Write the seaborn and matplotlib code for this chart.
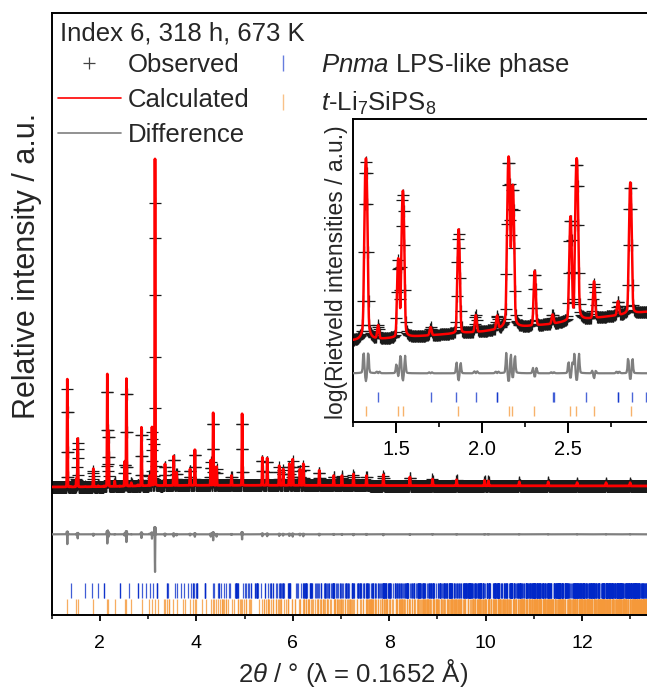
import numpy as np
import pandas as pd
import matplotlib
matplotlib.use("Agg")
import matplotlib.pyplot as plt
import seaborn as sns
from matplotlib.lines import Line2D
from matplotlib.ticker import MultipleLocator, NullLocator

# ---------------- data ----------------
wavelength = 0.1652          # Å
x_range = [1.0, 13.35]       # 2θ range of main panel
step = 0.004                 # measurement step (°)

# peak positions (2θ / °), calculated and observed heights (relative units)
peak_pos = [1.324, 1.395, 1.512, 1.539, 1.700, 1.863, 1.963, 2.087, 2.154, 2.178,
            2.306, 2.410, 2.514, 2.550, 2.651, 2.790, 2.862, 3.030, 3.081, 3.143,
            3.350, 3.530, 3.590, 3.870, 3.970, 4.300, 4.350, 4.420, 4.730, 4.950,
            5.370, 5.470, 5.720, 5.800, 5.930, 6.000, 6.150, 6.220, 6.550, 6.850,
            7.020, 7.260, 7.530, 7.880, 8.430, 8.900, 9.400, 9.980, 10.060, 10.700,
            11.300, 11.900, 12.500, 13.000]
peak_calc = [0.330, 0.0016, 0.025, 0.148, 0.0010, 0.055, 0.0025, 0.0020, 0.344, 0.170,
             0.016, 0.0015, 0.075, 0.329, 0.010, 0.0030, 0.179, 0.030, 0.179, 1.000,
             0.066, 0.090, 0.040, 0.050, 0.109, 0.077, 0.222, 0.057, 0.030, 0.219,
             0.085, 0.083, 0.060, 0.050, 0.066, 0.080, 0.050, 0.066, 0.046, 0.030,
             0.030, 0.035, 0.030, 0.033, 0.026, 0.020, 0.018, 0.016, 0.015, 0.012,
             0.012, 0.010, 0.010, 0.010]
peak_obs = [0.300, 0.0016, 0.024, 0.135, 0.0010, 0.050, 0.0025, 0.0020, 0.310, 0.160,
            0.015, 0.0015, 0.070, 0.300, 0.009, 0.0030, 0.165, 0.030, 0.165, 0.880,
            0.060, 0.082, 0.036, 0.046, 0.100, 0.070, 0.200, 0.050, 0.028, 0.200,
            0.078, 0.076, 0.055, 0.046, 0.060, 0.073, 0.046, 0.060, 0.042, 0.028,
            0.028, 0.032, 0.028, 0.030, 0.024, 0.019, 0.017, 0.015, 0.014, 0.011,
            0.011, 0.009, 0.009, 0.009]
fwhm_calc = 0.012
fwhm_obs = 0.013
lorentz_frac = 0.05

# background (relative units)
bg_pos = [1.0, 1.3, 2.0, 2.4, 2.95, 4.0, 6.0, 9.0, 13.4]
bg_val = [0.004, 0.004, 0.005, 0.006, 0.008, 0.009, 0.009, 0.008, 0.007]

# lattice parameters of the two phases (Å) for the reflection markers
pnma_cell = [13.57, 7.83, 6.105]     # a, b, c  (Pnma LPS-like phase)
tet_cell = [8.70, 12.54]             # a, c     (t-Li7SiPS8, P4_2/nmc)

title_text = "Index 6, 318 h, 673 K"
labels = ["Observed", "Calculated", "Difference",
          r"$\mathit{Pnma}$ LPS-like phase", r"$\mathit{t}$-Li$_7$SiPS$_8$"]
x_label = r"2$\mathit{θ}$ / ° (λ = 0.1652 Å)"
y_label = "Relative intensity / a.u."
inset_y_label = "log(Rietveld intensities / a.u.)"
main_ticks = [2, 4, 6, 8, 10, 12]

# ---------------- derived profiles ----------------
def profile(x, pos, h, w, eta=lorentz_frac):
    pos = np.asarray(pos)[None, :]
    h = np.asarray(h)[None, :]
    dx = x[:, None] - pos
    lor = 1.0 / (1.0 + (2 * dx / w) ** 2)
    gau = np.exp(-4 * np.log(2) * (dx / w) ** 2)
    return (h * (eta * lor + (1 - eta) * gau)).sum(axis=1)

x_obs = np.arange(x_range[0], x_range[1] + step, step)
x_fine = np.arange(x_range[0], x_range[1] + step / 4, step / 4)
y_obs = profile(x_obs, peak_pos, peak_obs, fwhm_obs) + np.interp(x_obs, bg_pos, bg_val)
y_calc_at_obs = profile(x_obs, peak_pos, peak_calc, fwhm_calc) + np.interp(x_obs, bg_pos, bg_val)
y_calc = profile(x_fine, peak_pos, peak_calc, fwhm_calc) + np.interp(x_fine, bg_pos, bg_val)
y_diff = y_obs - y_calc_at_obs

def refl_pnma(a, b, c, tmax):
    out = []
    dmin = wavelength / (2 * np.sin(np.radians(tmax / 2)))
    for h in range(0, int(a / dmin) + 1):
        for k in range(0, int(b / dmin) + 1):
            for l in range(0, int(c / dmin) + 1):
                if h == k == l == 0:
                    continue
                if h == 0 and (k + l) % 2:
                    continue
                if l == 0 and h % 2:
                    continue
                if h == 0 and l == 0 and k % 2:
                    continue
                if h == 0 and k == 0 and l % 2:
                    continue
                d = 1 / np.sqrt(h * h / a ** 2 + k * k / b ** 2 + l * l / c ** 2)
                if d < dmin:
                    continue
                out.append(2 * np.degrees(np.arcsin(wavelength / (2 * d))))
    return np.array(sorted(out))

def refl_tet(a, c, tmax):
    out = []
    dmin = wavelength / (2 * np.sin(np.radians(tmax / 2)))
    for h in range(0, int(a / dmin) + 1):
        for k in range(0, h + 1):
            for l in range(0, int(c / dmin) + 1):
                if h == k == l == 0:
                    continue
                if l == 0 and (h + k) % 2:
                    continue
                if h == k and l % 2:
                    continue
                if h == 0 and k == 0 and l % 2:
                    continue
                d = 1 / np.sqrt((h * h + k * k) / a ** 2 + l * l / c ** 2)
                if d < dmin:
                    continue
                out.append(2 * np.degrees(np.arcsin(wavelength / (2 * d))))
    return np.array(sorted(out))

ticks_pnma = refl_pnma(*pnma_cell, x_range[1])
ticks_tet = refl_tet(*tet_cell, x_range[1])

# ---------------- styling ----------------
sns.set_theme(style="white")
plt.rcParams["font.family"] = ["Liberation Sans", "DejaVu Sans"]
plt.rcParams["mathtext.fontset"] = "custom"
plt.rcParams["mathtext.rm"] = "Liberation Sans"
plt.rcParams["mathtext.it"] = "Liberation Sans:italic"
plt.rcParams["mathtext.default"] = "regular"

RED = "#ff0000"
GRAY = "#7f7f7f"
BLUE = "#0027c8"
ORANGE = "#f5993a"
OBS = "#1a1a1a"

W, H = 647, 688
fig = plt.figure(figsize=(W / 100, H / 100), dpi=100)

def fx(px):
    return px / W

def fy(py):
    return 1 - py / H

# ---------------- main panel ----------------
ax = fig.add_axes([fx(51.7), fy(615), fx(647 - 51.7), (615 - 12.7) / H])
main_off_diff = -0.141
ax.plot(x_obs, y_obs, ls="none", marker="+", ms=8, mew=0.9, color=OBS, zorder=2)
df_calc = pd.DataFrame({"x": x_fine, "y": y_calc})
sns.lineplot(data=df_calc, x="x", y="y", ax=ax, color=RED, lw=2.0,
             estimator=None, sort=False, zorder=3)
df_diff = pd.DataFrame({"x": x_obs, "y": y_diff + main_off_diff})
sns.lineplot(data=df_diff, x="x", y="y", ax=ax, color=GRAY, lw=1.6,
             estimator=None, sort=False, zorder=3)
ax.vlines(ticks_pnma, -0.337, -0.289, colors=BLUE, lw=0.9, alpha=0.75, zorder=2)
ax.vlines(ticks_tet, -0.388, -0.340, colors=ORANGE, lw=0.9, alpha=0.8, zorder=2)

ax.set_xlim(*x_range)
ax.set_ylim(-0.388, 1.456)
ax.xaxis.set_major_locator(MultipleLocator(2))
ax.xaxis.set_minor_locator(MultipleLocator(1))
ax.set_xticks(main_ticks)
ax.yaxis.set_major_locator(NullLocator())
ax.tick_params(axis="x", which="major", direction="out", length=4.5, width=1.3,
               labelsize=14, pad=10, bottom=True, colors="black")
ax.tick_params(axis="x", which="minor", direction="out", length=3, width=1.3, bottom=True)
for s in ["left", "top", "bottom"]:
    ax.spines[s].set_linewidth(1.4)
    ax.spines[s].set_color("black")
ax.spines["right"].set_visible(False)
ax.set_xlabel("")
ax.set_ylabel("")
fig.text(fx(353), fy(673), x_label, ha="center", va="center", fontsize=18.5)
fig.text(fx(27), fy(266), y_label, rotation=90, ha="center", va="center", fontsize=22)

# ---------------- inset ----------------
axi = fig.add_axes([fx(352.7), fy(421.7), fx(647 - 352.7), (421.7 - 119.3) / H])
mi = (x_obs >= 1.2) & (x_obs <= 3.0)
mf = (x_fine >= 1.2) & (x_fine <= 3.0)
inset_off_diff = -2.739
inset_diff_scale = 2.0
axi.plot(x_obs[mi], np.log10(y_obs[mi]), ls="none", marker="+", ms=8, mew=0.9,
         color=OBS, zorder=2)
sns.lineplot(x=x_fine[mf], y=np.log10(y_calc[mf]), ax=axi, color=RED, lw=1.8,
             estimator=None, sort=False, zorder=3)
sns.lineplot(x=x_obs[mi],
             y=inset_off_diff + inset_diff_scale * (np.log10(y_obs[mi]) - np.log10(y_calc_at_obs[mi])),
             ax=axi, color=GRAY, lw=1.6, estimator=None, sort=False, zorder=3)
axi.vlines(ticks_pnma, -3.038, -2.932, colors=BLUE, lw=1.0, alpha=0.7)
axi.vlines(ticks_tet, -3.188, -3.083, colors=ORANGE, lw=1.0, alpha=0.75)
axi.set_xlim(1.247, 2.959)
axi.set_ylim(-3.248, -0.065)
axi.xaxis.set_major_locator(MultipleLocator(0.5))
axi.xaxis.set_minor_locator(MultipleLocator(0.25))
axi.yaxis.set_major_locator(NullLocator())
axi.tick_params(axis="x", which="major", direction="out", length=8, width=1.4,
                labelsize=14.5, pad=5, bottom=True, colors="black")
axi.tick_params(axis="x", which="minor", direction="out", length=3.6, width=1.4, bottom=True)
for s in ["left", "top", "bottom"]:
    axi.spines[s].set_linewidth(1.4)
    axi.spines[s].set_color("black")
axi.spines["right"].set_visible(False)
axi.set_xlabel("")
axi.set_ylabel("")
axi.set_facecolor("white")
fig.text(fx(337), fy(272), inset_y_label, rotation=90, ha="center", va="center", fontsize=16.5)

# ---------------- title + legend ----------------
fig.text(fx(60), fy(40.7), title_text, fontsize=18.5, va="baseline", ha="left")
handles = [
    Line2D([], [], ls="none", marker="+", ms=8, mew=0.9, color="#444444"),
    Line2D([], [], color=RED, lw=1.2),
    Line2D([], [], color=GRAY, lw=1.2),
    Line2D([], [], ls="none", marker="|", ms=12, mew=1.0, color=BLUE, alpha=0.6),
    Line2D([], [], ls="none", marker="|", ms=12, mew=1.0, color=ORANGE, alpha=0.6),
]
fig.legend(handles, labels, ncol=2, loc="upper left",
           bbox_to_anchor=(fx(58), fy(51)), frameon=False, fontsize=18.5,
           handlelength=2.45, handletextpad=0.28, columnspacing=0.05,
           labelspacing=0.42, borderpad=0, borderaxespad=0)

fig.savefig("out.png", dpi=100)
